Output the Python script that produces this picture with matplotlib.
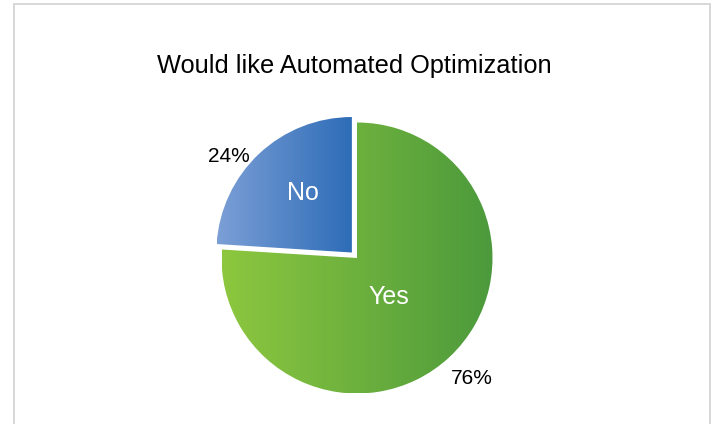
import numpy as np
import matplotlib.pyplot as plt
from matplotlib.colors import LinearSegmentedColormap
from matplotlib.patches import Rectangle

# data
labels = ["No", "Yes"]
values = [24, 76]
pct_text = ["24%", "76%"]
title = "Would like Automated Optimization"

# gradient ends (left -> right) for each slice
grad = [("#7C9FD6", "#2D6CB7"), ("#8DC73F", "#4C9A3C")]

plt.rcParams['font.family'] = ['Liberation Sans', 'DejaVu Sans']

W, H = 715, 424
fig = plt.figure(figsize=(W / 100, H / 100), dpi=100)
ax = fig.add_axes([0, 0, 1, 1])

cx, cy, r = 357, H - 258, 135.5
# explode is in data units here (pixels)
wedges, _ = ax.pie(values, startangle=90, counterclock=True, radius=r,
                   center=(cx, cy), explode=[7.5, 0], frame=True,
                   wedgeprops=dict(linewidth=0))

g = np.linspace(0, 1, 256).reshape(1, -1)
for w, (c0, c1) in zip(wedges, grad):
    w.set_facecolor("none")
    cmap = LinearSegmentedColormap.from_list("g", [c0, c1])
    x0, y0, x1, y1 = w.get_path().get_extents(w.get_transform()).transformed(ax.transData.inverted()).extents
    im = ax.imshow(g, cmap=cmap, extent=[x0, x1, y0, y1], aspect="auto",
                   interpolation="bilinear", zorder=1)
    im.set_clip_path(w)

# slice names (white, inside) and percentages (outside)
ax.text(303, H - 193, labels[0], color="white", fontsize=18, ha="center", va="center")
ax.text(389, H - 297, labels[1], color="white", fontsize=18, ha="center", va="center")
ax.text(229, H - 156, pct_text[0], color="black", fontsize=15, ha="center", va="center")
ax.text(472, H - 379, pct_text[1], color="black", fontsize=15, ha="center", va="center")

ax.text(354, H - 66, title, fontsize=18.3, ha="center", va="center")

# chart-area border
ax.add_patch(Rectangle((14, -10), 696, H - 4 + 10, fill=False,
                       edgecolor="#D4D4D4", linewidth=1.3, zorder=5))

ax.set_xlim(0, W)
ax.set_ylim(0, H)
ax.set_aspect("equal")
ax.axis("off")

fig.savefig("out.png", dpi=100, facecolor="white")
